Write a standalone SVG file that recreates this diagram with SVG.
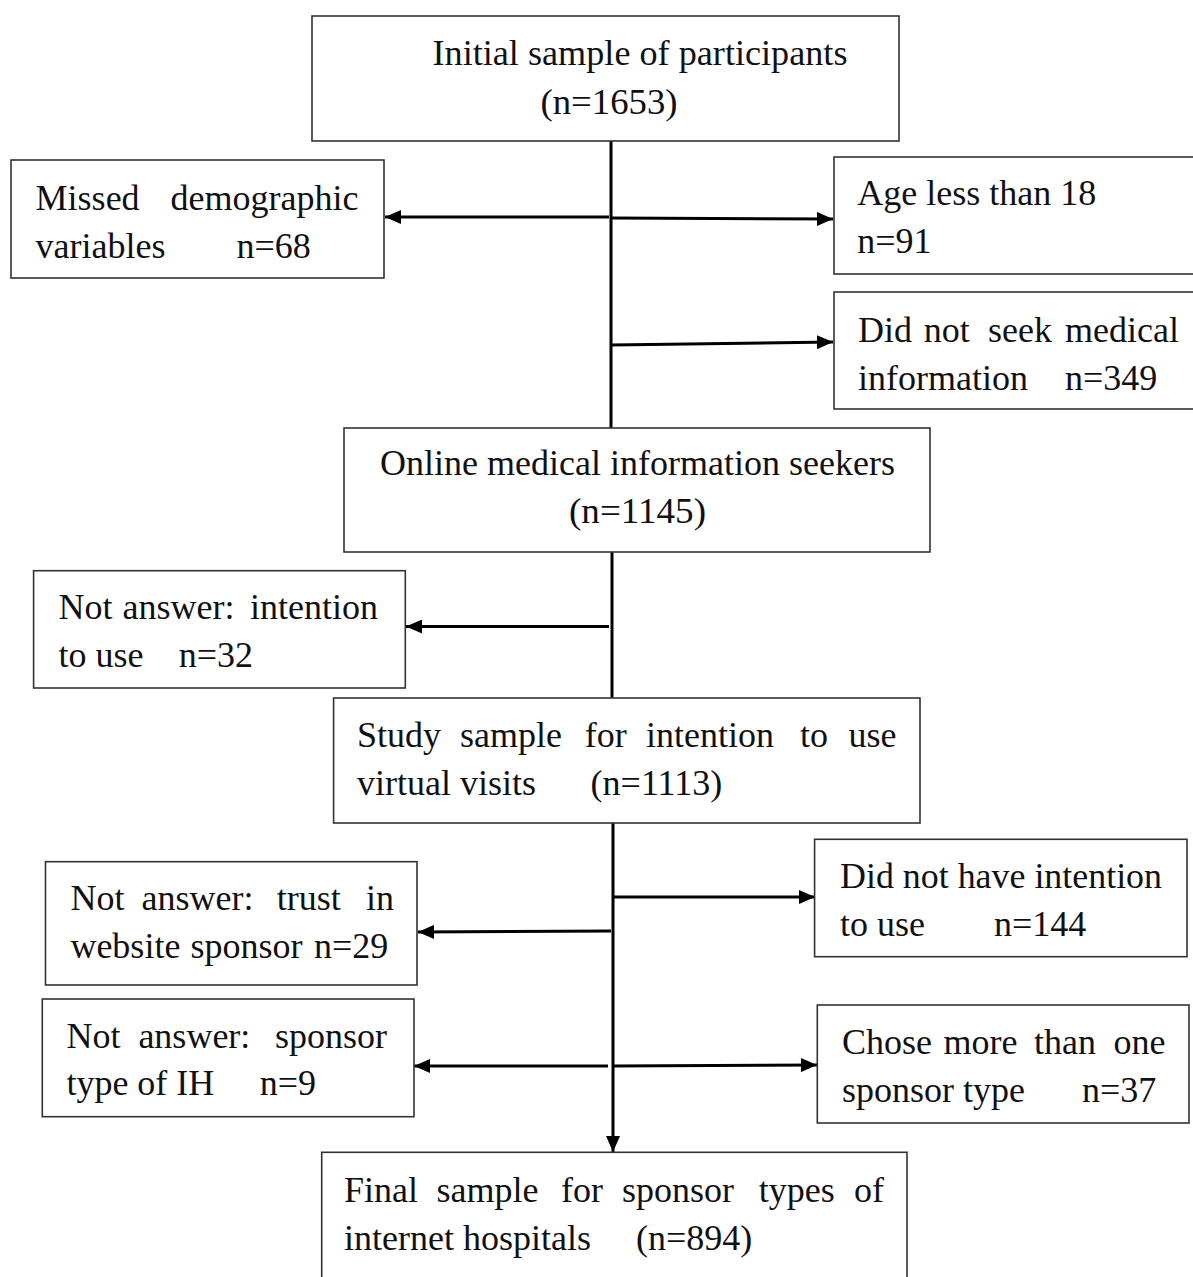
<svg xmlns="http://www.w3.org/2000/svg" width="1193" height="1277" viewBox="0 0 1193 1277">
<style>
.box{fill:#fff;stroke:#333;stroke-width:1.6}
.t{font-family:"Liberation Serif",serif;font-size:36px;fill:#111}
.c{stroke:#000;stroke-width:3;fill:none}
</style>
<defs>
<marker id="ah" viewBox="0 0 16 14" refX="16" refY="7" markerWidth="16" markerHeight="14" markerUnits="userSpaceOnUse" orient="auto">
<path d="M0,0 L16,7 L0,14 z" fill="#000"/>
</marker>
</defs>
<rect width="1193" height="1277" fill="#fff"/>
<g id="connectors">
<line class="c" x1="611" y1="141" x2="611" y2="428"/>
<line class="c" x1="609" y1="217" x2="385" y2="217" marker-end="url(#ah)"/>
<line class="c" x1="611" y1="218" x2="833" y2="219" marker-end="url(#ah)"/>
<line class="c" x1="611" y1="345" x2="833" y2="342" marker-end="url(#ah)"/>
<line class="c" x1="612" y1="552" x2="612" y2="698"/>
<line class="c" x1="609" y1="626.5" x2="406" y2="626.5" marker-end="url(#ah)"/>
<line class="c" x1="613" y1="823" x2="613" y2="1152" marker-end="url(#ah)"/>
<line class="c" x1="613" y1="897" x2="815" y2="897" marker-end="url(#ah)"/>
<line class="c" x1="611" y1="931" x2="418" y2="932" marker-end="url(#ah)"/>
<line class="c" x1="608" y1="1066" x2="414" y2="1066" marker-end="url(#ah)"/>
<line class="c" x1="613" y1="1066" x2="817" y2="1065" marker-end="url(#ah)"/>
</g>
<g id="n-initial">
<rect class="box" x="312" y="16" width="587" height="125"/>
<text class="t" x="432.5" y="65" textLength="415" lengthAdjust="spacingAndGlyphs">Initial sample of participants</text>
<text class="t" x="540.5" y="114" textLength="137" lengthAdjust="spacingAndGlyphs">(n=1653)</text>
</g>
<g id="n-missed">
<rect class="box" x="11" y="160" width="373" height="118"/>
<text class="t" y="209.5"><tspan x="35.6">Missed</tspan> <tspan x="170.5">demographic</tspan></text>
<text class="t" y="258"><tspan x="35.6">variables</tspan> <tspan x="236.4">n=68</tspan></text>
</g>
<g id="n-age">
<rect class="box" x="834" y="157" width="370" height="117"/>
<text class="t" x="857.3" y="205">Age less than 18</text>
<text class="t" x="857.3" y="253">n=91</text>
</g>
<g id="n-seek">
<rect class="box" x="834" y="292" width="370" height="117"/>
<text class="t" y="341.5"><tspan x="858">Did</tspan> <tspan x="923.8">not</tspan> <tspan x="988">seek</tspan> <tspan x="1065">medical</tspan></text>
<text class="t" y="390"><tspan x="858">information</tspan> <tspan x="1065">n=349</tspan></text>
</g>
<g id="n-online">
<rect class="box" x="344" y="428" width="586" height="124"/>
<text class="t" x="380" y="475" textLength="515" lengthAdjust="spacingAndGlyphs">Online medical information seekers</text>
<text class="t" x="569" y="523" textLength="137" lengthAdjust="spacingAndGlyphs">(n=1145)</text>
</g>
<g id="n-intention">
<rect class="box" x="33.6" y="570.7" width="371.7" height="117.3"/>
<text class="t" y="619"><tspan x="58.5">Not</tspan> <tspan x="122.6">answer:</tspan> <tspan x="250">intention</tspan></text>
<text class="t" y="666.7"><tspan x="58.5">to use</tspan> <tspan x="178.7">n=32</tspan></text>
</g>
<g id="n-study">
<rect class="box" x="333.6" y="698" width="586.4" height="125"/>
<text class="t" y="746.7"><tspan x="357">Study</tspan> <tspan x="460">sample</tspan> <tspan x="584.7">for</tspan> <tspan x="646">intention</tspan> <tspan x="800">to</tspan> <tspan x="848.6">use</tspan></text>
<text class="t" y="795"><tspan x="357">virtual visits</tspan> <tspan x="590.6">(n=1113)</tspan></text>
</g>
<g id="n-trust">
<rect class="box" x="45.5" y="861.7" width="371.5" height="123.3"/>
<text class="t" y="910"><tspan x="70.4">Not</tspan> <tspan x="141.6">answer:</tspan> <tspan x="276.8">trust</tspan> <tspan x="366">in</tspan></text>
<text class="t" y="958"><tspan x="70.4">website</tspan> <tspan x="190.6">sponsor</tspan> <tspan x="314">n=29</tspan></text>
</g>
<g id="n-nointent">
<rect class="box" x="814.6" y="839.3" width="372.4" height="117.4"/>
<text class="t" x="840" y="888" textLength="322" lengthAdjust="spacingAndGlyphs">Did not have intention</text>
<text class="t" y="936"><tspan x="840">to use</tspan> <tspan x="994">n=144</tspan></text>
</g>
<g id="n-sponsortype">
<rect class="box" x="42.3" y="999" width="371.7" height="117.7"/>
<text class="t" y="1048"><tspan x="66.4">Not</tspan> <tspan x="138.4">answer:</tspan> <tspan x="275">sponsor</tspan></text>
<text class="t" y="1095"><tspan x="66.4">type of IH</tspan> <tspan x="259.8">n=9</tspan></text>
</g>
<g id="n-chose">
<rect class="box" x="817.3" y="1005" width="371.7" height="118"/>
<text class="t" y="1054"><tspan x="842">Chose</tspan> <tspan x="943.6">more</tspan> <tspan x="1034">than</tspan> <tspan x="1113.6">one</tspan></text>
<text class="t" y="1101.7"><tspan x="842">sponsor type</tspan> <tspan x="1082">n=37</tspan></text>
</g>
<g id="n-final">
<rect class="box" x="321.7" y="1152.3" width="585.3" height="140"/>
<text class="t" y="1201.7"><tspan x="344">Final</tspan> <tspan x="436.4">sample</tspan> <tspan x="561">for</tspan> <tspan x="622">sponsor</tspan> <tspan x="758.7">types</tspan> <tspan x="854">of</tspan></text>
<text class="t" y="1250"><tspan x="344">internet hospitals</tspan> <tspan x="636">(n=894)</tspan></text>
</g>
</svg>
